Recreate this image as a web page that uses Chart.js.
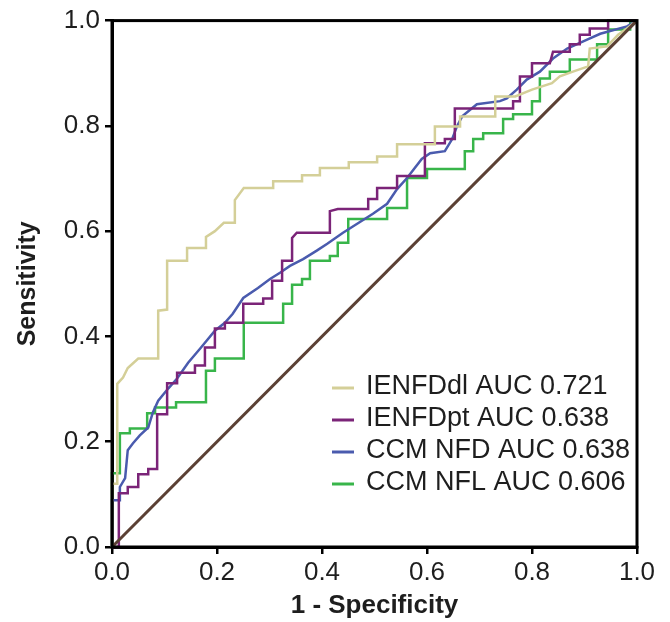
<!DOCTYPE html>
<html>
<head>
<meta charset="utf-8">
<script src="https://cdn.jsdelivr.net/npm/chart.js@4/dist/chart.umd.min.js"></script>
<style>
  html, body { margin: 0; padding: 0; background: #fff; }
  #wrap { width: 670px; height: 622px; }
</style>
</head>
<body>
<div id="wrap"><canvas id="rocChart"></canvas></div>
<script>
// ROC curves, corner points (x = 1 - specificity, y = sensitivity)
const seriesLabels = ["IENFDdl AUC 0.721", "IENFDpt AUC 0.638", "CCM NFD AUC 0.638", "CCM NFL AUC 0.606"];
const seriesColors = ["#d4cf98", "#7b2478", "#4a5bae", "#38b54a"];

const dlX = [0, 0, 0.01, 0.01, 0.021, 0.03, 0.05, 0.088, 0.088, 0.105, 0.105, 0.143, 0.143, 0.179, 0.179, 0.196, 0.213, 0.234, 0.234, 0.251, 0.307, 0.307, 0.362, 0.362, 0.396, 0.396, 0.451, 0.451, 0.505, 0.505, 0.543, 0.543, 0.615, 0.615, 0.663, 0.663, 0.73, 0.73, 0.768, 0.8, 0.838, 0.853, 0.878, 0.907, 0.91, 0.943, 0.964, 0.981, 1];
const dlY = [0, 0.12, 0.12, 0.31, 0.322, 0.34, 0.358, 0.358, 0.449, 0.451, 0.544, 0.544, 0.568, 0.568, 0.589, 0.6, 0.616, 0.616, 0.659, 0.682, 0.682, 0.695, 0.695, 0.706, 0.706, 0.72, 0.72, 0.731, 0.731, 0.742, 0.742, 0.765, 0.765, 0.799, 0.799, 0.818, 0.818, 0.856, 0.856, 0.869, 0.881, 0.894, 0.903, 0.913, 0.947, 0.951, 0.973, 0.985, 1];

const ptX = [0, 0.013, 0.013, 0.03, 0.03, 0.05, 0.05, 0.069, 0.069, 0.086, 0.086, 0.105, 0.105, 0.124, 0.124, 0.158, 0.158, 0.177, 0.177, 0.196, 0.196, 0.215, 0.215, 0.25, 0.25, 0.288, 0.288, 0.305, 0.305, 0.324, 0.324, 0.343, 0.343, 0.352, 0.415, 0.415, 0.43, 0.488, 0.488, 0.505, 0.505, 0.543, 0.543, 0.596, 0.596, 0.634, 0.634, 0.653, 0.653, 0.764, 0.764, 0.777, 0.777, 0.8, 0.8, 0.834, 0.84, 0.872, 0.872, 0.891, 0.891, 0.91, 0.91, 0.945, 0.945, 1];
const ptY = [0, 0, 0.102, 0.102, 0.114, 0.114, 0.138, 0.138, 0.148, 0.148, 0.252, 0.252, 0.311, 0.311, 0.331, 0.331, 0.345, 0.345, 0.379, 0.379, 0.415, 0.415, 0.426, 0.426, 0.462, 0.462, 0.472, 0.472, 0.506, 0.506, 0.544, 0.544, 0.587, 0.597, 0.597, 0.638, 0.642, 0.642, 0.661, 0.661, 0.682, 0.682, 0.705, 0.705, 0.767, 0.767, 0.775, 0.775, 0.833, 0.833, 0.847, 0.847, 0.894, 0.894, 0.919, 0.919, 0.941, 0.941, 0.955, 0.955, 0.973, 0.973, 0.985, 0.985, 1, 1];

const nfdX = [0, 0, 0.015, 0.015, 0.025, 0.03, 0.04, 0.053, 0.069, 0.078, 0.088, 0.107, 0.124, 0.145, 0.168, 0.196, 0.215, 0.23, 0.25, 0.278, 0.301, 0.32, 0.339, 0.364, 0.39, 0.41, 0.44, 0.467, 0.497, 0.524, 0.543, 0.562, 0.59, 0.606, 0.634, 0.648, 0.657, 0.667, 0.695, 0.739, 0.752, 0.771, 0.79, 0.815, 0.84, 0.867, 0.905, 0.93, 0.981, 1];
const nfdY = [0, 0.089, 0.089, 0.114, 0.131, 0.184, 0.197, 0.212, 0.227, 0.256, 0.278, 0.301, 0.32, 0.35, 0.377, 0.411, 0.426, 0.443, 0.473, 0.492, 0.509, 0.521, 0.534, 0.547, 0.563, 0.576, 0.597, 0.614, 0.633, 0.652, 0.68, 0.701, 0.737, 0.748, 0.752, 0.775, 0.799, 0.818, 0.841, 0.847, 0.852, 0.869, 0.888, 0.903, 0.928, 0.947, 0.964, 0.975, 0.989, 1];

const nflX = [0, 0, 0.015, 0.015, 0.034, 0.034, 0.067, 0.067, 0.082, 0.082, 0.122, 0.122, 0.179, 0.179, 0.196, 0.196, 0.251, 0.251, 0.326, 0.326, 0.343, 0.343, 0.362, 0.362, 0.377, 0.377, 0.415, 0.415, 0.43, 0.43, 0.45, 0.45, 0.524, 0.524, 0.562, 0.562, 0.6, 0.6, 0.672, 0.672, 0.688, 0.688, 0.707, 0.707, 0.745, 0.745, 0.764, 0.764, 0.8, 0.8, 0.815, 0.815, 0.834, 0.834, 0.872, 0.872, 0.907, 0.924, 0.924, 0.945, 0.945, 0.987, 0.987, 1];
const nflY = [0, 0.14, 0.14, 0.216, 0.216, 0.225, 0.225, 0.254, 0.254, 0.265, 0.265, 0.275, 0.275, 0.335, 0.335, 0.358, 0.358, 0.426, 0.426, 0.462, 0.462, 0.498, 0.498, 0.509, 0.509, 0.544, 0.544, 0.553, 0.553, 0.578, 0.578, 0.623, 0.623, 0.644, 0.644, 0.701, 0.701, 0.718, 0.718, 0.752, 0.752, 0.775, 0.775, 0.786, 0.786, 0.813, 0.813, 0.822, 0.822, 0.847, 0.847, 0.89, 0.89, 0.903, 0.903, 0.926, 0.926, 0.926, 0.955, 0.955, 0.983, 0.983, 1, 1];

const refX = [0, 1];
const refY = [0, 1];

const axisTicks = [0, 0.2, 0.4, 0.6, 0.8, 1.0];

const toPoints = (xs, ys) => xs.map((x, i) => ({ x: x, y: ys[i] }));

const curves = [[dlX, dlY], [ptX, ptY], [nfdX, nfdY], [nflX, nflY]];

const datasets = curves.map((c, i) => ({
    label: seriesLabels[i],
    data: toPoints(c[0], c[1]),
    borderColor: seriesColors[i],
    backgroundColor: seriesColors[i],
}));
datasets.unshift({
    label: "Reference",
    data: toPoints(refX, refY),
    borderColor: "#5b4034",
    backgroundColor: "#5b4034",
    borderWidth: 3,
});

// box round the plot + legend inside the plot
const framePlugin = {
    id: "frame",
    afterDraw(chart) {
        const { ctx, chartArea: a } = chart;
        ctx.save();
        ctx.strokeStyle = "#000";
        ctx.lineWidth = 3;
        ctx.strokeRect(a.left, a.top, a.right - a.left, a.bottom - a.top);

        ctx.font = "27px 'Liberation Sans', Arial, sans-serif";
        ctx.textBaseline = "middle";
        ctx.fillStyle = "#1e1e1e";
        seriesLabels.forEach((lab, i) => {
            const y = 388 + i * 32;
            ctx.strokeStyle = seriesColors[i];
            ctx.lineWidth = 3;
            ctx.beginPath();
            ctx.moveTo(332, y);
            ctx.lineTo(354, y);
            ctx.stroke();
            ctx.fillText(lab, 366, y - 1);
        });
        ctx.restore();
    }
};

const tickFont = { family: "'Liberation Sans', Arial, sans-serif", size: 26 };

new Chart(document.getElementById("rocChart"), {
    type: "scatter",
    data: { datasets: datasets },
    options: {
        responsive: true,
        maintainAspectRatio: false,
        animation: false,
        layout: { padding: { top: 19, right: 33, left: 0, bottom: 0 } },
        elements: {
            point: { radius: 0, hoverRadius: 0 },
            line: { borderWidth: 2.5, tension: 0 }
        },
        datasets: { scatter: { showLine: true, clip: 4 } },
        plugins: {
            legend: { display: false },
            tooltip: { enabled: false }
        },
        scales: {
            x: {
                type: "linear",
                min: 0,
                max: 1,
                afterFit(scale) { scale.height = 75; },
                afterBuildTicks(scale) { scale.ticks = axisTicks.map(v => ({ value: v })); },
                ticks: {
                    color: "#1e1e1e",
                    font: tickFont,
                    padding: 3,
                    callback: v => v.toFixed(1)
                },
                grid: { drawOnChartArea: false, drawTicks: true, tickLength: 7, color: "#000", lineWidth: 2.5 },
                border: { display: true, color: "#000", width: 3 },
                title: {
                    display: true,
                    text: "1 - Specificity",
                    color: "#1e1e1e",
                    font: { family: "'Liberation Sans', Arial, sans-serif", size: 26, weight: "bold" },
                    padding: { top: 0, bottom: 1 }
                }
            },
            y: {
                type: "linear",
                min: 0,
                max: 1,
                afterFit(scale) { scale.width = 112; },
                afterBuildTicks(scale) { scale.ticks = axisTicks.map(v => ({ value: v })); },
                ticks: {
                    color: "#1e1e1e",
                    font: tickFont,
                    padding: 5,
                    callback: v => v.toFixed(1)
                },
                grid: { drawOnChartArea: false, drawTicks: true, tickLength: 7, color: "#000", lineWidth: 2.5 },
                border: { display: true, color: "#000", width: 3 },
                title: {
                    display: true,
                    text: "Sensitivity",
                    color: "#1e1e1e",
                    font: { family: "'Liberation Sans', Arial, sans-serif", size: 25, weight: "bold" },
                    padding: { top: 13, bottom: 0 }
                }
            }
        }
    },
    plugins: [framePlugin]
});
</script>
</body>
</html>
